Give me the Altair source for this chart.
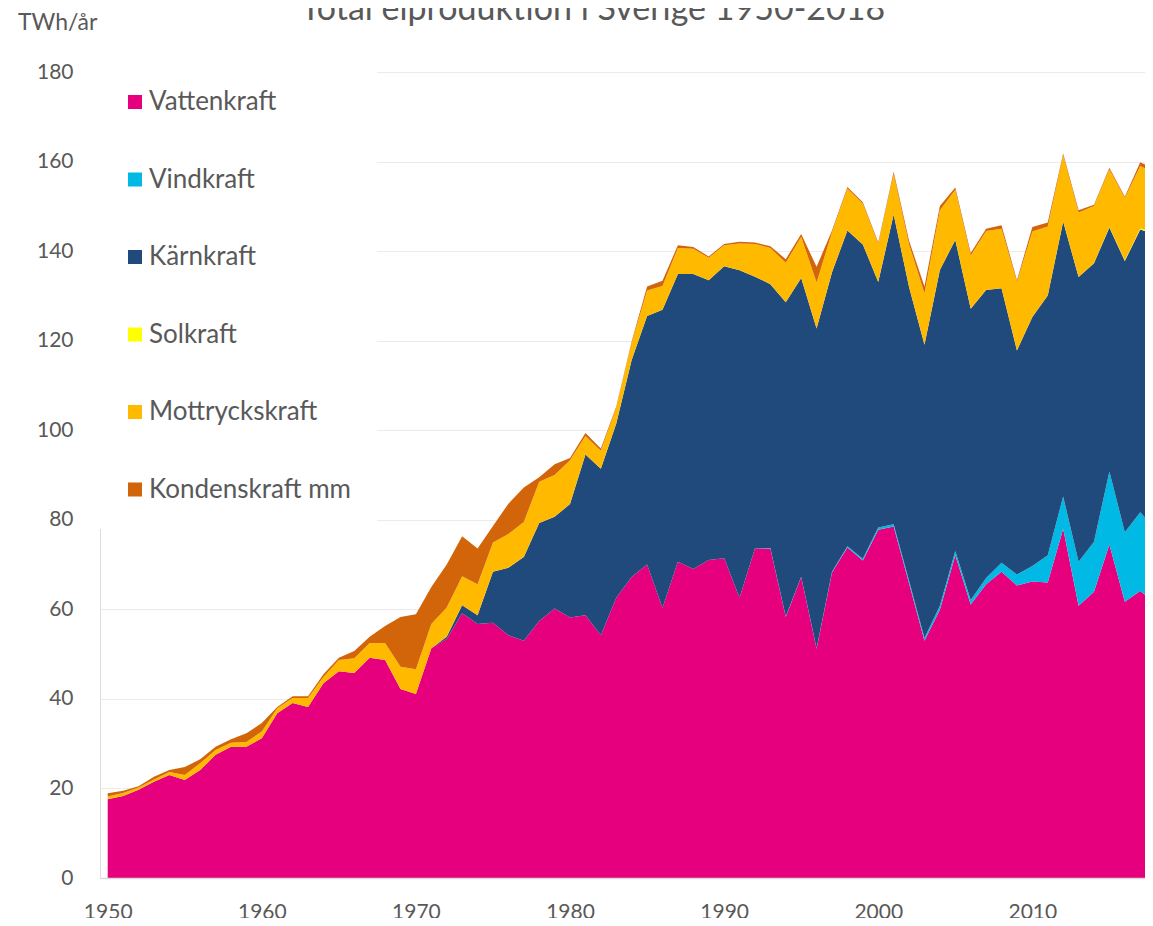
import altair as alt
import pandas as pd

years = list(range(1950, 2019))

vattenkraft = [17.6, 18.3, 19.7, 21.5, 23.0, 21.9, 24.1, 27.5, 29.3, 29.3,
               31.2, 36.8, 39.1, 38.2, 43.5, 46.2, 45.8, 49.2, 48.7, 42.2,
               41.1, 51.3, 53.4, 59.1, 56.7, 57.0, 54.2, 53.0, 57.4, 60.2,
               58.2, 58.7, 54.2, 62.6, 67.2, 70.0, 60.3, 70.6, 69.0, 71.0,
               71.4, 62.6, 73.6, 73.6, 58.3, 67.2, 51.2, 68.2, 73.8, 70.9,
               77.8, 78.5, 65.8, 53.0, 59.9, 72.1, 61.1, 65.6, 68.4, 65.3,
               66.2, 66.0, 78.0, 60.8, 63.9, 74.5, 61.7, 64.1, 61.3]

vindkraft = [0, 0, 0, 0, 0, 0, 0, 0, 0, 0,
             0, 0, 0, 0, 0, 0, 0, 0, 0, 0,
             0, 0, 0, 0, 0, 0, 0, 0, 0, 0,
             0, 0, 0, 0, 0, 0, 0, 0, 0, 0,
             0.0, 0.0, 0.0, 0.1, 0.1, 0.1, 0.1, 0.2, 0.3, 0.4,
             0.5, 0.5, 0.6, 0.6, 0.9, 0.9, 1.0, 1.4, 2.0, 2.5,
             3.5, 6.1, 7.2, 9.8, 11.2, 16.3, 15.5, 17.6, 16.6]

karnkraft = [0, 0, 0, 0, 0, 0, 0, 0, 0, 0,
             0, 0, 0, 0, 0, 0, 0, 0, 0, 0,
             0, 0, 0.5, 1.8, 2.0, 11.4, 15.1, 18.7, 21.9, 20.5,
             25.3, 35.9, 37.2, 38.9, 48.5, 55.5, 66.6, 64.3, 65.9, 62.5,
             65.2, 73.1, 60.7, 58.9, 70.2, 66.7, 71.4, 66.9, 70.5, 70.2,
             54.8, 69.2, 65.6, 65.5, 75.0, 69.5, 65.0, 64.3, 61.3, 50.0,
             55.6, 58.0, 61.4, 63.6, 62.2, 54.5, 60.6, 63.1, 65.9]

solkraft = [0, 0, 0, 0, 0, 0, 0, 0, 0, 0,
            0, 0, 0, 0, 0, 0, 0, 0, 0, 0,
            0, 0, 0, 0, 0, 0, 0, 0, 0, 0,
            0, 0, 0, 0, 0, 0, 0, 0, 0, 0,
            0, 0, 0, 0, 0, 0, 0, 0, 0, 0,
            0, 0, 0, 0, 0, 0, 0, 0, 0, 0,
            0, 0, 0, 0.03, 0.05, 0.1, 0.14, 0.23, 0.41]

mottryckskraft = [0.6, 0.7, 0.5, 0.5, 0.7, 1.1, 1.5, 1.1, 0.9, 1.1,
                  1.5, 1.1, 1.1, 2.0, 1.4, 2.5, 3.3, 3.3, 3.8, 5.0,
                  5.5, 5.4, 6.5, 6.5, 6.9, 6.5, 7.5, 7.8, 9.2, 9.3,
                  9.8, 4.1, 4.0, 3.5, 3.8, 5.7, 5.3, 5.8, 5.6, 5.0,
                  4.7, 6.0, 7.3, 8.1, 8.8, 9.2, 10.3, 8.9, 9.4, 9.1,
                  8.5, 9.0, 9.5, 11.5, 13.3, 11.2, 11.9, 13.2, 13.3, 15.3,
                  19.1, 15.4, 14.8, 14.4, 12.7, 12.9, 13.9, 14.0, 13.1]

kondenskraft = [0.7, 0.5, 0.3, 0.6, 0.4, 1.8, 0.9, 0.7, 0.8, 1.9,
                1.9, 0.3, 0.4, 0.4, 0.6, 0.5, 1.6, 1.4, 3.8, 11.1,
                12.3, 8.3, 9.6, 8.9, 8.0, 3.7, 6.8, 7.7, 1.0, 2.4,
                0.5, 0.7, 0.5, 0.3, 0.3, 0.9, 1.2, 0.6, 0.4, 0.3,
                0.3, 0.4, 0.3, 0.4, 0.8, 0.6, 3.5, 0.4, 0.3, 0.3,
                0.3, 0.5, 0.8, 1.5, 1.0, 0.5, 0.6, 0.5, 0.8, 0.4,
                1.0, 0.9, 0.4, 0.5, 0.3, 0.3, 0.3, 0.8, 0.9]

series_names = ["Vattenkraft", "Vindkraft", "Kärnkraft", "Solkraft",
                "Mottryckskraft", "Kondenskraft mm"]
series_colors = ["#E6007E", "#00B9E4", "#214A7C", "#FFFF00", "#FFBA00", "#D2640A"]
series_values = [vattenkraft, vindkraft, karnkraft, solkraft, mottryckskraft, kondenskraft]

x_ticks = [1950, 1960, 1970, 1980, 1990, 2000, 2010]
y_ticks = [0, 20, 40, 60, 80, 100, 120, 140, 160, 180]
title_text = "Total elproduktion i Sverige 1950-2018"
unit_text = "TWh/år"

rows = []
for i, (name, vals) in enumerate(zip(series_names, series_values)):
    for yr, v in zip(years, vals):
        rows.append({"year": yr, "serie": name, "value": v, "idx": i})
df = pd.DataFrame(rows)

FONT = "Lato"
GREY = "#595959"

areas = alt.Chart(df).mark_area(clip=True, interpolate="linear", opacity=1).encode(
    x=alt.X("year:Q",
            scale=alt.Scale(domain=[1949.5, 2017.31], nice=False, zero=False),
            axis=alt.Axis(values=x_ticks, format="d", title=None, ticks=False,
                          labelFontSize=21, labelFont=FONT, labelColor=GREY,
                          labelPadding=23, domainColor="#D9D9D9", domainWidth=1.5,
                          grid=False, zindex=1)),
    y=alt.Y("value:Q", stack="zero",
            scale=alt.Scale(domain=[0, 180], nice=False),
            axis=alt.Axis(values=y_ticks, title=None, ticks=False, domain=False,
                          labelFontSize=21, labelFont=FONT, labelColor=GREY,
                          labelPadding=27, gridColor="#EBEBEB", gridWidth=1.2)),
    color=alt.Color("serie:N",
                    scale=alt.Scale(domain=series_names, range=series_colors),
                    legend=alt.Legend(title=None, orient="none", legendX=-4, legendY=-9,
                                      symbolType="square", symbolSize=196,
                                      symbolStrokeWidth=0, symbolOpacity=1,
                                      labelFontSize=26, labelFont=FONT,
                                      labelColor=GREY, labelOffset=1,
                                      rowPadding=51.5, padding=26, fillColor="white",
                                      labelLimit=400)),
    order=alt.Order("idx:Q", sort="ascending"),
)

title_df = pd.DataFrame({"t": [title_text]})
title = alt.Chart(title_df).mark_text(
    font=FONT, fontSize=34, color=GREY, align="center", baseline="alphabetic"
).encode(x=alt.value(493), y=alt.value(-52), text="t:N")

unit_df = pd.DataFrame({"t": [unit_text]})
unit = alt.Chart(unit_df).mark_text(
    font=FONT, fontSize=23, color=GREY, align="left", baseline="alphabetic"
).encode(x=alt.value(-82), y=alt.value(-42), text="t:N")

chart = alt.layer(areas, title, unit).properties(
    width=1045, height=806,
    autosize=alt.AutoSizeParams(type="none"),
    padding={"left": 92, "top": 64, "right": 0, "bottom": 40},
).configure_view(stroke=None).configure(background="white")

chart.save("out.html", embed_options={"renderer": "svg", "actions": False})
